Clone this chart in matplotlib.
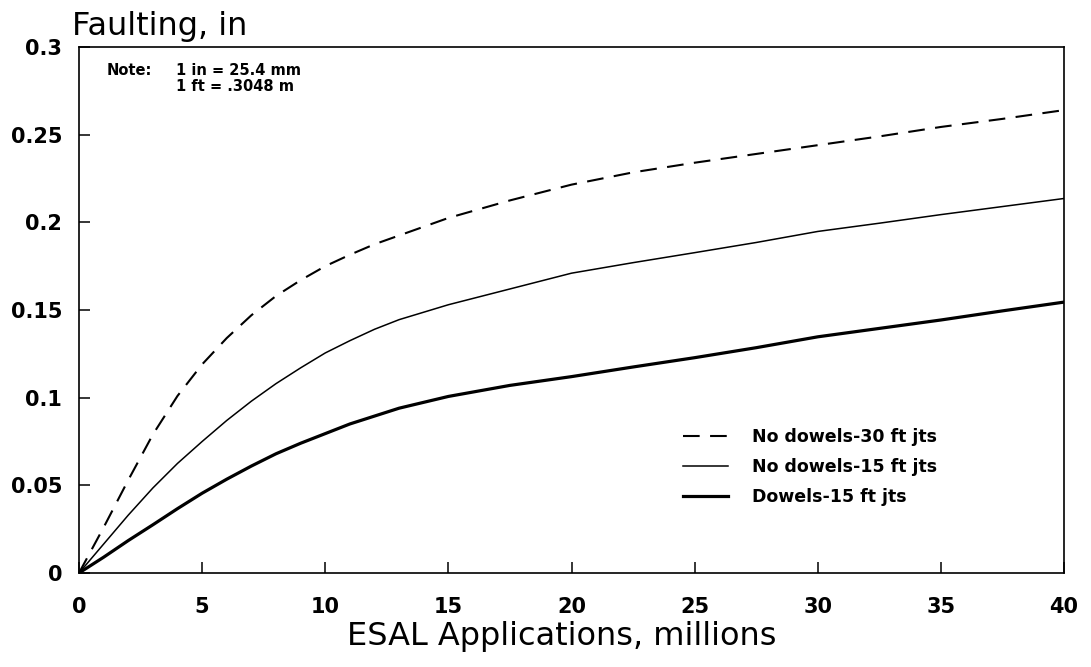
import matplotlib
matplotlib.use("Agg")
import matplotlib.pyplot as plt

# ---- data ----
esal = [0, 1, 2, 3, 4, 5, 6, 7, 8, 9, 10, 11, 12, 13,
        15, 17.5, 20, 22.5, 25, 27.5, 30, 32.5, 35, 37.5, 40]
no_dowels_30 = [0, 0.026, 0.053, 0.079, 0.101, 0.119, 0.134, 0.147, 0.158, 0.167,
                0.175, 0.1815, 0.1875, 0.1925,
                0.2025, 0.2125, 0.2215, 0.2285, 0.234, 0.239, 0.244, 0.249, 0.2544, 0.259, 0.264]
no_dowels_15 = [0, 0.0165, 0.033, 0.0485, 0.0625, 0.075, 0.087, 0.098, 0.108, 0.117,
                0.1255, 0.1325, 0.139, 0.1445,
                0.153, 0.162, 0.171, 0.177, 0.1827, 0.1885, 0.1948, 0.1995, 0.2044, 0.209, 0.2136]
dowels_15 = [0, 0.009, 0.0185, 0.0275, 0.0367, 0.0455, 0.0535, 0.061, 0.068, 0.074,
             0.0795, 0.085, 0.0895, 0.094,
             0.1007, 0.107, 0.112, 0.1175, 0.1228, 0.1285, 0.1347, 0.1395, 0.1443, 0.1495, 0.1545]

series_labels = ["No dowels-30 ft jts", "No dowels-15 ft jts", "Dowels-15 ft jts"]
x_ticks = [0, 5, 10, 15, 20, 25, 30, 35, 40]
y_ticks = [0, 0.05, 0.1, 0.15, 0.2, 0.25, 0.3]
y_tick_labels = ["0", "0.05", "0.1", "0.15", "0.2", "0.25", "0.3"]

plt.rcParams['font.family'] = ['DejaVu Sans']

W, H = 1091, 667
AX_L, AX_R, AX_T, AX_B = 79, 1064, 47, 573
fig = plt.figure(figsize=(W / 100, H / 100), dpi=100)
ax = fig.add_axes([AX_L / W, 1 - AX_B / H, (AX_R - AX_L) / W, (AX_B - AX_T) / H])


def axfrac(px, py):
    return (px - AX_L) / (AX_R - AX_L), (AX_B - py) / (AX_B - AX_T)


l1, = ax.plot(esal, no_dowels_30, color='black', lw=1.5, dashes=(8, 5))
l2, = ax.plot(esal, no_dowels_15, color='black', lw=1.1)
l3, = ax.plot(esal, dowels_15, color='black', lw=2.3)

ax.set_xlim(0, 40)
ax.set_ylim(0, 0.3)
ax.set_xticks(x_ticks)
ax.set_xticklabels([str(v) for v in x_ticks])
ax.set_yticks(y_ticks)
ax.set_yticklabels(y_tick_labels)
ax.tick_params(axis='both', direction='in', length=8, width=1.1,
               labelsize=15, top=False, right=False)
ax.tick_params(axis='x', pad=17)
ax.tick_params(axis='y', pad=12)
for lab in ax.get_xticklabels() + ax.get_yticklabels():
    lab.set_fontweight('bold')
for sp in ax.spines.values():
    sp.set_linewidth(1.2)

# axis titles
fig.text(72 / W, 1 - 35 / H, "Faulting, in", fontsize=23, ha='left', va='baseline')
fig.text(562 / W, 1 - 645 / H, "ESAL Applications, millions", fontsize=23,
         ha='center', va='baseline')

# note
x0, y0 = axfrac(107, 75)
ax.text(x0, y0, "Note:", transform=ax.transAxes, fontsize=10.5, fontweight='bold', va='baseline')
x1, y1 = axfrac(176, 75)
ax.text(x1, y1, "1 in = 25.4 mm", transform=ax.transAxes, fontsize=10.5,
        fontweight='bold', va='baseline')
x2, y2 = axfrac(176, 91)
ax.text(x2, y2, "1 ft = .3048 m", transform=ax.transAxes, fontsize=10.5,
        fontweight='bold', va='baseline')

lx, ly = axfrac(683, 467)
leg = ax.legend([l1, l2, l3], series_labels, loc='center left',
                bbox_to_anchor=(lx, ly), frameon=False,
                prop={'weight': 'bold', 'size': 12.5},
                handlelength=2.6, handletextpad=1.4, labelspacing=0.7,
                borderpad=0, borderaxespad=0)

fig.savefig("out.png", dpi=100)
